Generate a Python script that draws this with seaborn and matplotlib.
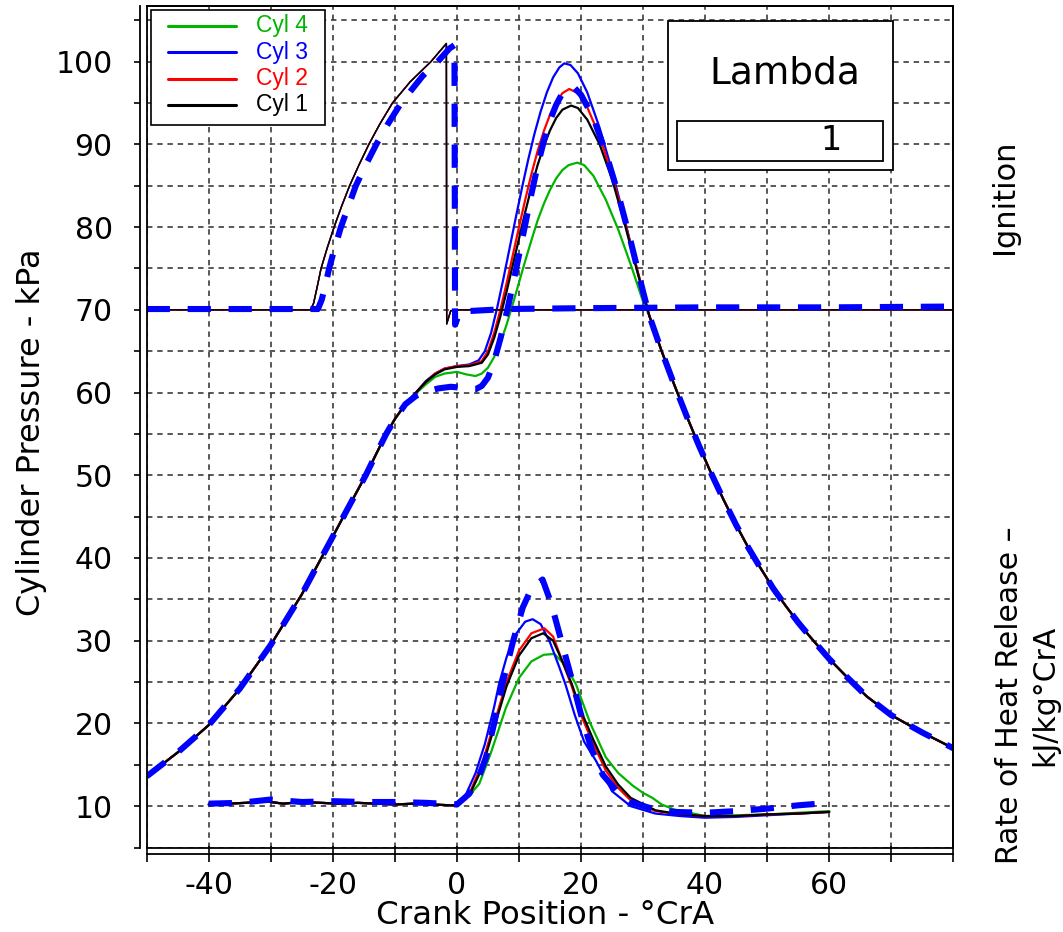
import matplotlib
matplotlib.use("Agg")
import matplotlib.pyplot as plt
from matplotlib.patches import Rectangle
from matplotlib.lines import Line2D
import numpy as np
import pandas as pd
import seaborn as sns

sns.set_theme(style="white")
plt.rcParams['font.family'] = ['DejaVu Sans', 'Liberation Sans']
plt.rcParams['text.color'] = 'black'
plt.rcParams['axes.labelcolor'] = 'black'
plt.rcParams['xtick.color'] = 'black'
plt.rcParams['ytick.color'] = 'black'

# ---------------- data ----------------
# common compression stroke (all cylinders + model)
comp_x = [-50, -45, -40, -35, -30, -25, -20, -18.3, -16.5, -14.7, -13, -11.4, -10, -8.3]
comp_y = [13.6, 16.5, 19.8, 24.2, 29.5, 35.6, 42.6, 45.0, 47.5, 50.0, 52.6, 55.0, 56.8, 58.6]

# common expansion stroke
exp_x = [33, 35, 37, 39, 41, 43, 45, 47, 49, 51, 53, 55, 57, 60, 63, 66, 70, 75, 80]
exp_y = [65.0, 61.0, 57.2, 53.6, 50.2, 47.0, 44.0, 41.2, 38.7, 36.3, 34.2, 32.2, 30.4, 27.8, 25.5, 23.3, 21.0, 18.9, 17.0]

# combustion part, per cylinder
cyl1_x = [-6.6, -5, -3.5, -2, 0, 2, 4, 5, 6, 7, 8, 9, 10, 11, 12, 13, 14, 15, 16, 17, 18.4, 19.5, 21, 23, 25, 27, 29, 31]
cyl1_y = [60.0, 61.3, 62.2, 62.8, 63.1, 63.2, 63.6, 64.6, 66.6, 69.2, 72.2, 75.4, 78.6, 81.8, 84.8, 87.5, 89.8, 91.7, 93.2, 94.2, 94.7, 94.4, 93.0, 90.0, 85.8, 80.5, 74.8, 69.3]
cyl2_x = [-6.6, -5, -3.5, -2, 0, 2, 4, 5, 6, 7, 8, 9, 10, 11, 12, 13, 14, 15, 16, 17, 18.1, 19.5, 21, 23, 25, 27, 29, 31]
cyl2_y = [60.0, 61.3, 62.3, 62.9, 63.2, 63.3, 63.8, 65.0, 67.2, 70.0, 73.2, 76.6, 80.0, 83.3, 86.4, 89.2, 91.6, 93.6, 95.1, 96.2, 96.7, 96.2, 94.5, 91.0, 86.3, 80.8, 75.0, 69.3]
cyl3_x = [-6.6, -5, -3.5, -2, 0, 2, 3.5, 4.5, 5.5, 6.5, 7.5, 8.5, 9.5, 10.5, 11.5, 12.5, 13.5, 14.5, 15.5, 16.5, 17.3, 18.3, 19.5, 21, 23, 25, 27, 29, 31]
cyl3_y = [60.0, 61.4, 62.3, 62.9, 63.2, 63.4, 63.9, 65.0, 67.2, 70.3, 73.8, 77.5, 81.2, 84.8, 88.2, 91.3, 94.0, 96.3, 98.1, 99.3, 99.8, 99.6, 98.6, 96.3, 92.0, 86.8, 81.0, 75.0, 69.3]
cyl4_x = [-6.6, -5, -3.5, -2, 0, 1.5, 3, 4, 5, 6, 7, 8, 9, 10, 11, 12, 13, 14, 15, 16, 17, 18, 19.4, 20.5, 22, 24, 26, 28, 30, 31]
cyl4_y = [59.9, 61.0, 61.9, 62.3, 62.5, 62.2, 62.0, 62.3, 63.0, 64.3, 66.0, 68.2, 70.7, 73.3, 75.9, 78.4, 80.8, 82.8, 84.5, 85.9, 86.9, 87.5, 87.8, 87.5, 86.2, 83.3, 79.7, 75.5, 71.0, 69.3]
model_x = [-6.6, -5, -3, -1, 0.5, 2, 3, 4, 5, 6, 7, 8, 9, 10, 11, 12, 13, 14, 15, 16, 17, 18, 19, 20, 22, 24, 26, 28, 30, 31]
model_y = [59.6, 60.1, 60.5, 60.7, 60.6, 60.4, 60.4, 60.8, 61.8, 63.8, 66.5, 69.6, 73.0, 76.6, 80.3, 84.0, 87.4, 90.4, 92.9, 94.8, 96.2, 96.9, 96.8, 96.0, 93.2, 89.0, 84.0, 78.3, 72.2, 69.3]

# ignition trace (measured) and model
ign_x = [-50, -23.6, -23.1, -22.6, -21.9, -20.9, -19.8, -18.6, -17.3, -15.8, -14.2, -12.4, -10.4, -7.5, -4.2, -1.7, -1.65, -1.0, 0, 80]
ign_y = [70, 70, 70.8, 72.5, 75, 77.5, 80, 82.5, 85, 87.5, 90, 92.5, 95, 97.6, 100, 102.2, 68.3, 69.9, 70, 70]
ign_model_x = [-50, -22.4, -21.8, -21.2, -20.6, -19.7, -18.7, -17.5, -16.3, -14.7, -13, -11.1, -9, -5.5, -3.1, -1.2, -0.4, -0.3, 0.5, 3, 8, 20, 40, 60, 80]
ign_model_y = [70.1, 70.1, 71.2, 73.0, 75, 77.5, 80, 82.5, 85, 87.5, 90, 92.5, 95, 98.3, 100, 101.6, 102.0, 68.2, 69.8, 69.9, 70.1, 70.2, 70.3, 70.3, 70.4]

# rate of heat release
hr_flat_x = [-40, -37, -34, -31, -28, -25, -22, -19, -16, -13, -10, -7, -4, -1]
hr_flat_y = [10.2, 10.3, 10.4, 10.6, 10.3, 10.5, 10.4, 10.3, 10.4, 10.3, 10.2, 10.3, 10.2, 10.1]
hr1_x = [0, 2, 4, 6, 8, 10, 12, 13.9, 15.5, 17, 18.5, 20, 22, 24, 26, 28, 32, 36, 40, 45, 50, 55, 60]
hr1_y = [10.1, 11.3, 14.5, 19.5, 24.5, 28.2, 30.3, 30.9, 30.0, 27.5, 24.8, 21.5, 18.0, 14.8, 12.6, 11.0, 9.5, 9.0, 8.8, 8.8, 9.0, 9.1, 9.3]
hr2_x = [0, 2, 4, 6, 8, 10, 12, 14.1, 15.5, 17, 18.5, 20, 22, 24, 26, 28, 32, 36, 40, 45, 50, 55, 60]
hr2_y = [10.1, 11.5, 15.0, 20.0, 25.0, 28.8, 30.9, 31.5, 30.5, 27.5, 24.5, 21.0, 17.5, 14.3, 12.2, 10.7, 9.4, 9.0, 8.8, 8.8, 9.0, 9.1, 9.3]
hr3_x = [0, 1.5, 3, 4.5, 6, 6.8, 8, 9.5, 11, 12.2, 13.5, 15, 16.5, 17.5, 19, 20.5, 22.4, 25, 28, 32, 36, 40, 45, 50, 55, 60]
hr3_y = [10.1, 11.5, 14.0, 17.5, 22.0, 24.8, 28.0, 30.8, 32.3, 32.6, 32.0, 29.8, 26.8, 24.7, 21.0, 17.8, 15.5, 11.8, 10.0, 9.1, 8.8, 8.6, 8.7, 8.9, 9.1, 9.3]
hr4_x = [0, 2, 3.6, 5.5, 7.9, 10, 12, 14, 15.7, 17.5, 19.2, 21.5, 24, 26, 28.3, 30, 31.5, 33, 35, 40, 45, 50, 55, 60]
hr4_y = [10.1, 11.3, 12.7, 16.5, 21.9, 25.5, 27.5, 28.3, 28.4, 27.0, 24.7, 20.0, 15.9, 14.0, 12.5, 11.6, 11.0, 10.2, 9.6, 8.8, 8.9, 9.0, 9.2, 9.4]
hr_model_x = [-40, -35, -30, -25, -20, -15, -10, -5, 0, 2, 3.5, 4.7, 6, 7.3, 9, 10.6, 12, 13.8, 15.2, 17, 18.6, 20.2, 21.8, 23.5, 25.6, 28, 31, 35, 40, 45, 50, 55, 60]
hr_model_y = [10.3, 10.4, 10.8, 10.5, 10.6, 10.5, 10.5, 10.4, 10.2, 11.5, 13.5, 15.9, 20.0, 24.7, 29.8, 34.0, 36.3, 37.4, 34.5, 29.5, 25.1, 20.5, 16.7, 13.8, 11.95, 10.5, 9.8, 9.3, 9.2, 9.4, 9.7, 10.1, 10.4]

cyl_names = ["Cyl 4", "Cyl 3", "Cyl 2", "Cyl 1"]
cyl_colors = ["#00b400", "#0000ff", "#ff0000", "#000000"]
model_color = "#0000ff"

x_ticks = list(range(-50, 81, 10))
x_labels = [str(v) if v in (-40, -20, 0, 20, 40, 60) else "" for v in x_ticks]
y_ticks = list(range(5, 106, 5))
y_labels = [str(v) if v % 10 == 0 else "" for v in y_ticks]

lambda_value = "1"

# ---------------- figure ----------------
W, H = 1063, 932
fig = plt.figure(figsize=(W / 100, H / 100), dpi=100)
L, R, T, B = 146.7, 953.3, 6.0, 847.5
ax = fig.add_axes([L / W, 1 - B / H, (R - L) / W, (B - T) / H])

def draw(x, y, color, lw=1.6, ls="-", z=2):
    sns.lineplot(x=np.asarray(x, float), y=np.asarray(y, float), estimator=None, sort=False,
                 color=color, linewidth=lw, linestyle=ls, ax=ax, zorder=z)

press = {
    "Cyl 4": (cyl4_x, cyl4_y),
    "Cyl 3": (cyl3_x, cyl3_y),
    "Cyl 2": (cyl2_x, cyl2_y),
    "Cyl 1": (cyl1_x, cyl1_y),
}
hrr = {
    "Cyl 4": (hr4_x, hr4_y),
    "Cyl 3": (hr3_x, hr3_y),
    "Cyl 2": (hr2_x, hr2_y),
    "Cyl 1": (hr1_x, hr1_y),
}
for i, (name, c) in enumerate(zip(cyl_names, cyl_colors)):
    px, py = press[name]
    draw(comp_x + px + exp_x, comp_y + py + exp_y, c, z=2 + i)
    hx, hy = hrr[name]
    draw(hr_flat_x + hx, hr_flat_y + hy, c, z=2 + i)
    draw(ign_x, ign_y, c, lw=1.0, z=2 + i)

dash = (0, (3.8, 2.9))
draw(comp_x + model_x + exp_x, comp_y + model_y + exp_y, model_color, lw=4.4, ls=dash, z=10)
draw(ign_model_x, ign_model_y, model_color, lw=4.4, ls=dash, z=10)
draw(hr_model_x, hr_model_y, model_color, lw=4.4, ls=dash, z=10)

ax.set_xlim(-50, 80)
ax.set_ylim(5, 100 + (61.7 - T) / 8.27)
ax.set_xticks(x_ticks)
ax.set_xticklabels(x_labels)
ax.set_yticks(y_ticks)
ax.set_yticklabels(y_labels)
ax.grid(True, color="#333333", linestyle=(0, (3.4, 3.0)), linewidth=1.15)
ax.set_axisbelow(True)

for s in ["top", "right"]:
    ax.spines[s].set_visible(True)
    ax.spines[s].set_color("black")
    ax.spines[s].set_linewidth(1.3)
for s in ["left", "bottom"]:
    ax.spines[s].set_position(("outward", 5))
    ax.spines[s].set_color("black")
    ax.spines[s].set_linewidth(1.3)
ax.add_patch(Rectangle((0, 0), 1, 1, transform=ax.transAxes, fill=False,
                       edgecolor="black", linewidth=1.3, clip_on=False, zorder=20))
ax.tick_params(axis="y", direction="out", length=4, width=1.2, color="black",
               labelcolor="black", labelsize=21.5, pad=15.5, left=True)
ax.tick_params(axis="x", direction="inout", length=12, width=1.2, color="black",
               labelcolor="black", labelsize=21.5, pad=6, bottom=True)
ax.set_xlabel("")
ax.set_ylabel("")

fig.text(545 / W, 1 - 915 / H, "Crank Position - °CrA", ha="center", va="center",
         fontsize=23.3, color="black")
fig.text(32 / W, 1 - 432 / H, "Cylinder Pressure - kPa", ha="center", va="center",
         rotation=90, fontsize=23.0, color="black")
fig.text(1005 / W, 1 - 197 / H, "Ignition", ha="center", va="center", rotation=90,
         fontsize=22, color="black")
fig.text(1027 / W, 1 - 695 / H, "Rate of Heat Release –\nkJ/kg°CrA", ha="center", va="center",
         rotation=90, fontsize=21.5, linespacing=1.25, multialignment="center", color="black")

# legend (drawn box, sample lines and coloured labels)
def fig_rect(x0, y0, x1, y1, lw=1.3, z=40):
    fig.add_artist(Rectangle((x0 / W, 1 - y1 / H), (x1 - x0) / W, (y1 - y0) / H,
                             transform=fig.transFigure, facecolor="white",
                             edgecolor="black", linewidth=lw, zorder=z))

fig_rect(150.5, 10.5, 324.5, 124.5, lw=1.2, z=30)
leg_rows = [25.5, 52, 78.5, 105]
for name, c, yy in zip(cyl_names, cyl_colors, leg_rows):
    fig.add_artist(Line2D([168 / W, 236 / W], [1 - yy / H, 1 - yy / H], color=c, lw=2.2,
                          transform=fig.transFigure, zorder=31))
    fig.text(256 / W, 1 - yy / H, name, ha="left", va="center", color=c,
             fontsize=16.5, family="Liberation Sans", zorder=31)

# lambda box
fig_rect(667.5, 21.5, 892.5, 170)
fig_rect(677, 121, 883, 161)
fig.text(785 / W, 1 - 73 / H, "Lambda", ha="center", va="center", fontsize=27,
         color="black", zorder=41)
fig.text(831 / W, 1 - 141 / H, lambda_value, ha="center", va="center", fontsize=24,
         color="black", zorder=41)

fig.savefig("out.png", dpi=100)
